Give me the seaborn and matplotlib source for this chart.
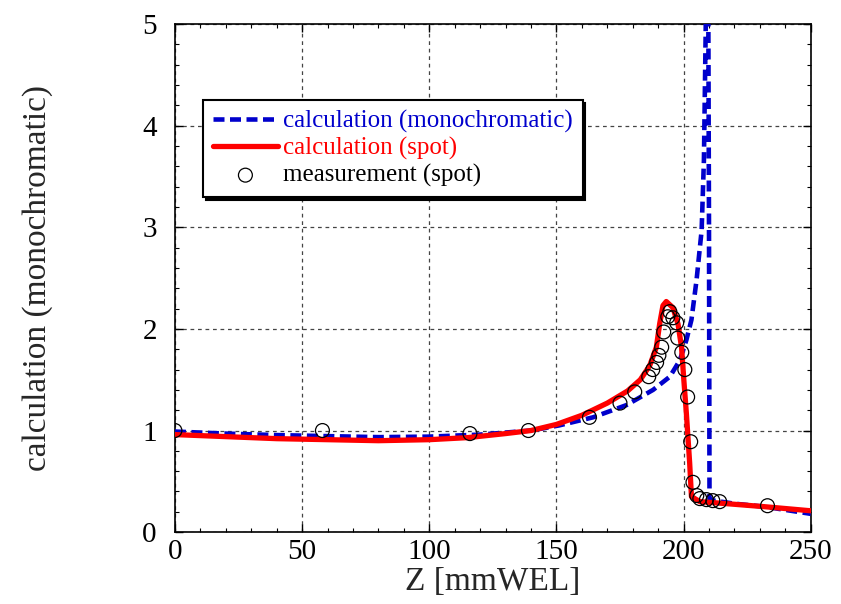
import pandas as pd
import matplotlib
matplotlib.use("Agg")
import matplotlib.pyplot as plt
from matplotlib.ticker import MultipleLocator
import seaborn as sns

# calculation (monochromatic)
mono_z = [0, 20, 40, 60, 80, 100, 120, 140, 151, 164.4, 177.5, 188, 194.6, 198.5, 201.1,
          203.1, 205.1, 207.1, 208.0, 208.7, 209.5, 210.0, 210.2, 212, 220, 232, 250]
mono_y = [0.99, 0.97, 0.955, 0.945, 0.935, 0.94, 0.96, 1.0, 1.05, 1.13, 1.25, 1.40, 1.53, 1.69, 1.89,
          2.09, 2.48, 2.97, 3.66, 4.94, 7.0, 3.0, 0.33, 0.31, 0.28, 0.25, 0.18]

# calculation (spot)
spot_z = [0, 20, 40, 60, 80, 100, 115, 130, 140, 150, 160, 170, 178, 183, 186.7, 189.3,
          190.6, 191.9, 193.2, 195.8, 197.8, 199.2, 200.1, 201.1, 202.4, 203.1, 206.4,
          217, 232, 250]
spot_y = [0.96, 0.94, 0.92, 0.91, 0.90, 0.91, 0.93, 0.97, 1.0, 1.06, 1.15, 1.27, 1.39, 1.50,
          1.64, 1.82, 2.05, 2.23, 2.27, 2.21, 2.05, 1.82, 1.50, 1.17, 0.68, 0.35, 0.30,
          0.28, 0.25, 0.21]

# measurement (spot)
meas_z = [0, 58, 116, 139, 163, 175, 180.8, 186.3, 187.9, 189.4, 190.3, 191.4, 192.2,
          193.8, 194.6, 195.8, 197.3, 197.7, 199.3, 200.5, 201.6, 202.8, 203.7, 205.2,
          206.4, 209, 211.5, 214.2, 233]
meas_y = [1.0, 1.0, 0.97, 1.0, 1.13, 1.27, 1.38, 1.53, 1.6, 1.67, 1.74, 1.82, 1.97,
          2.12, 2.17, 2.11, 2.06, 1.91, 1.77, 1.6, 1.33, 0.89, 0.49, 0.36,
          0.33, 0.32, 0.31, 0.30, 0.26]

mono = pd.DataFrame({"Z": mono_z, "val": mono_y})
spot = pd.DataFrame({"Z": spot_z, "val": spot_y})
meas = pd.DataFrame({"Z": meas_z, "val": meas_y})

sns.set_style("ticks", {"xtick.direction": "in", "ytick.direction": "in"})
plt.rcParams["font.family"] = ["Liberation Serif", "DejaVu Serif"]

fig = plt.figure(figsize=(8.41, 6.04), dpi=100)
ax = fig.add_axes([0.208, 0.119, 0.756, 0.841])

sns.lineplot(data=mono, x="Z", y="val", ax=ax, sort=False, estimator=None,
             color="#0000CC", linewidth=3.3, linestyle=(0, (2.4, 1.2)),
             label="calculation (monochromatic)", zorder=3)
sns.lineplot(data=spot, x="Z", y="val", ax=ax, sort=False, estimator=None,
             color="#FF0000", linewidth=3.8, label="calculation (spot)", zorder=4)
sns.scatterplot(data=meas, x="Z", y="val", ax=ax, marker="o", s=100,
                facecolors="none", edgecolor="black", linewidth=0.9,
                label="measurement (spot)", zorder=5)

ax.set_xlim(0, 250)
ax.set_ylim(0, 5)
ax.xaxis.set_major_locator(MultipleLocator(50))
ax.xaxis.set_minor_locator(MultipleLocator(10))
ax.yaxis.set_major_locator(MultipleLocator(1))
ax.yaxis.set_minor_locator(MultipleLocator(0.2))
ax.tick_params(which="both", direction="in", top=True, right=True, labelsize=21, colors="black")
ax.tick_params(which="major", length=6, width=1)
ax.tick_params(which="minor", length=3, width=0.8)
ax.tick_params(axis="y", pad=13)
ax.tick_params(axis="x", pad=5)
ax.grid(True, which="major", linestyle=(0, (3, 3)), color="#444444", linewidth=0.9)
ax.set_axisbelow(True)
for sp in ax.spines.values():
    sp.set_linewidth(1.2)
    sp.set_color("black")

ax.set_xlabel("Z [mmWEL]", fontsize=24, labelpad=1)
ax.set_ylabel("calculation (monochromatic)", fontsize=24, labelpad=64)

leg = ax.legend(loc="upper left", bbox_to_anchor=(0.044, 0.850), borderaxespad=0,
                fontsize=18, handlelength=2.6, handletextpad=0.2, labelspacing=0.15,
                borderpad=0.4, fancybox=False, framealpha=1, edgecolor="black",
                shadow={"color": "black", "alpha": 1})
leg.get_frame().set_linewidth(1.5)
for txt, c in zip(leg.get_texts(), ["#0000CC", "#FF0000", "black"]):
    txt.set_color(c)

plt.savefig("out.png", dpi=100)
